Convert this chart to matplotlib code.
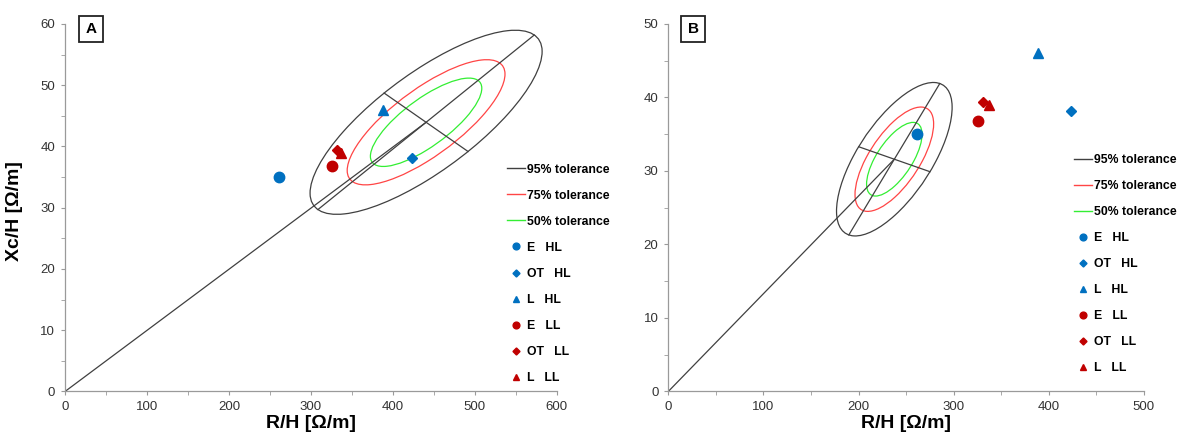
import matplotlib.pyplot as plt
import numpy as np
from matplotlib.patches import Ellipse
from matplotlib.lines import Line2D

plt.rcParams['font.family'] = ['Liberation Sans', 'DejaVu Sans']

# measured points (R/H, Xc/H), same in both panels
labels = ['E   HL', 'OT   HL', 'L   HL', 'E   LL', 'OT   LL', 'L   LL']
rh = [261, 423.8, 388.4, 325.4, 331.3, 336.8]
xch = [35.0, 38.1, 46.0, 36.8, 39.4, 39.0]
colors = ['#0070C0', '#0070C0', '#0070C0', '#C00000', '#C00000', '#C00000']
markers = ['o', 'D', '^', 'o', 'D', '^']
msizes = [7.5, 5.5, 6.5, 7.5, 5.5, 6.5]

# tolerance ellipses: center, major half-axis, minor half-axis
centerA = (440.6, 43.95)
majorA = (132.0, 14.25)
minorA = (51.2, -4.77)
centerB = (237.6, 31.6)
majorB = (47.8, 10.3)
minorB = (37.5, -1.7)
tol_names = ['95% tolerance', '75% tolerance', '50% tolerance']
tol_scale = [1.0, 0.68, 0.48]
tol_colors = ['#404040', '#FF4545', '#33EE33']


def draw_panel(ax, center, major, minor, xmax, ymax, letter, leg_xy):
    M = np.column_stack([major, minor])
    for name, s, c in zip(tol_names, tol_scale, tol_colors):
        S = (M * s) @ (M * s).T
        vals, vecs = np.linalg.eigh(S)
        ang = np.degrees(np.arctan2(vecs[1, 1], vecs[0, 1]))
        ax.add_patch(Ellipse(center, 2 * np.sqrt(vals[1]), 2 * np.sqrt(vals[0]),
                             angle=ang, fill=False, ec=c, lw=0.9))
    cx, cy = center
    # line from origin to centre, major and minor axes
    ax.plot([0, cx], [0, cy], color='#404040', lw=0.9)
    ax.plot([cx - major[0], cx + major[0]], [cy - major[1], cy + major[1]], color='#404040', lw=0.9)
    ax.plot([cx - minor[0], cx + minor[0]], [cy - minor[1], cy + minor[1]], color='#404040', lw=0.9)
    for x, y, c, m, ms in zip(rh, xch, colors, markers, msizes):
        ax.plot(x, y, marker=m, color=c, ms=ms, ls='none', zorder=5)

    ax.set_xlim(0, xmax)
    ax.set_ylim(0, ymax)
    ax.set_xticks(np.arange(0, xmax + 1, 100))
    ax.set_xticks(np.arange(0, xmax + 1, 50), minor=True)
    ax.set_yticks(np.arange(0, ymax + 1, 10))
    ax.set_yticks(np.arange(0, ymax + 1, 5), minor=True)
    for sp in ['top', 'right']:
        ax.spines[sp].set_visible(False)
    for sp in ['left', 'bottom']:
        ax.spines[sp].set_color('#9a9a9a')
        ax.spines[sp].set_linewidth(0.9)
    ax.tick_params(which='both', direction='out', length=3, color='#9a9a9a',
                   labelsize=9.5, labelcolor='#333333', pad=4)
    ax.set_xlabel('R/H [Ω/m]', fontsize=14, fontweight='bold', labelpad=1.5)

    fig.text(letter[1], 0.933, letter[0], fontsize=11, fontweight='bold',
             ha='center', va='center',
             bbox=dict(boxstyle='square,pad=0.42', fc='white', ec='#222222', lw=1.3))

    handles = [Line2D([], [], color=c, lw=1.0) for c in tol_colors]
    handles += [Line2D([], [], color=c, marker=m, ls='none', ms=ms * 0.65)
                for c, m, ms in zip(colors, markers, msizes)]
    ax.legend(handles, tol_names + labels, loc='upper left', bbox_to_anchor=leg_xy,
              bbox_transform=fig.transFigure, frameon=False, borderpad=0,
              borderaxespad=0, prop={'weight': 'bold', 'size': 8.8},
              handlelength=1.5, handletextpad=0.1, labelspacing=1.15)


fig = plt.figure(figsize=(11.78, 4.32), dpi=100)
axA = fig.add_axes([0.0552, 0.0938, 0.4174, 0.8507])
axB = fig.add_axes([0.5673, 0.0938, 0.4038, 0.8507])

draw_panel(axA, centerA, majorA, minorA, 600, 60, ('A', 0.0772), (0.4304, 0.6213))
draw_panel(axB, centerB, majorB, minorB, 500, 50, ('B', 0.5883), (0.9117, 0.6434))
axA.set_ylabel('Xc/H [Ω/m]', fontsize=14, fontweight='bold')
axA.yaxis.set_label_coords(-0.0854, 0.49)

plt.savefig('out.png', dpi=100)
